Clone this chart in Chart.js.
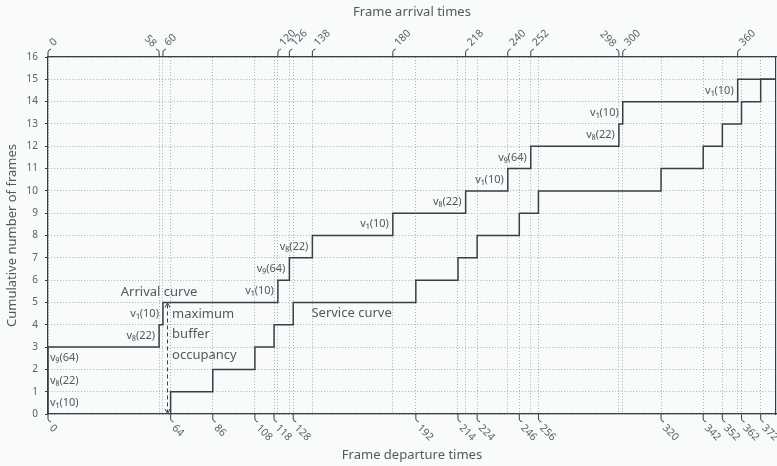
<!DOCTYPE html>
<html>
<head>
<meta charset="utf-8">
<script src="https://cdn.jsdelivr.net/npm/chart.js@4"></script>
<style>
html,body{margin:0;padding:0;background:#f9fafa;}
#wrap{width:777px;height:466px;}
</style>
</head>
<body>
<div id="wrap"><canvas id="myChart" width="777" height="466"></canvas></div>
<script>
// frames in order of arrival
const frameNames     = ['v₁(10)','v₈(22)','v₉(64)','v₈(22)','v₁(10)','v₁(10)','v₉(64)','v₈(22)','v₁(10)','v₈(22)','v₁(10)','v₉(64)','v₈(22)','v₁(10)','v₁(10)']
const arrivalTimes   = [0,0,0,58,60,120,126,138,180,218,240,252,298,300,360]
const departureTimes = [64,86,108,118,128,192,214,224,246,256,320,342,352,362,372]
const arrivalTicks   = [0,58,60,120,126,138,180,218,240,252,298,300,360]
const departureTicks = [0,64,86,108,118,128,192,214,224,246,256,320,342,352,362,372]
const flippedTicks   = [58,298]
const bufferText     = ['maximum','buffer','occupancy']
const xMax = 380
const yMax = 16

const ink     = '#33424a'
const textInk = '#4f5b61'
const tickInk = '#56636a'
const gridInk = '#a9b0b4'
const fontFam = '"Noto Sans", sans-serif'

let arrivalPts = [{x:0,y:0}]
arrivalTimes.forEach((t,i) => arrivalPts.push({x:t, y:i+1}))
arrivalPts.push({x:xMax, y:arrivalTimes.length})

let servicePts = [{x:0,y:0}]
departureTimes.forEach((t,i) => servicePts.push({x:t, y:i+1}))
servicePts.push({x:xMax, y:departureTimes.length})

const decor = {
    id: 'decor',
    afterDraw(chart) {
        const {ctx, chartArea: a, scales} = chart
        const xs = scales.x, xt = scales.x2, ys = scales.y
        ctx.save()
        ctx.strokeStyle = ink
        ctx.lineWidth = 1
        ctx.fillStyle = tickInk
        ctx.font = '10.5px ' + fontFam
        ctx.textBaseline = 'middle'

        // top axis hooks + labels
        arrivalTicks.forEach(v => {
            const px = xt.getPixelForValue(v)
            const d = flippedTicks.includes(v) ? -1 : 1
            ctx.beginPath()
            ctx.moveTo(px, a.top)
            ctx.lineTo(px, a.top - 5)
            ctx.quadraticCurveTo(px, a.top - 7, px + 3*d, a.top - 8)
            ctx.stroke()
            ctx.save()
            if (d > 0) {
                ctx.translate(px + 3.5, a.top - 12.5)
                ctx.rotate(-Math.PI/4)
                ctx.textAlign = 'left'
            } else {
                ctx.translate(px - 4.5, a.top - 11.5)
                ctx.rotate(Math.PI/4)
                ctx.textAlign = 'right'
            }
            ctx.fillText(String(v), 0, 0)
            ctx.restore()
        })

        // bottom axis hooks + labels
        departureTicks.forEach(v => {
            const px = xs.getPixelForValue(v)
            ctx.beginPath()
            ctx.moveTo(px, a.bottom)
            ctx.lineTo(px, a.bottom + 5)
            ctx.quadraticCurveTo(px, a.bottom + 7, px + 3, a.bottom + 8)
            ctx.stroke()
            ctx.save()
            ctx.translate(px + 3, a.bottom + 12.5)
            ctx.rotate(Math.PI/4)
            ctx.textAlign = 'left'
            ctx.fillText(String(v), 0, 0)
            ctx.restore()
        })

        // frame labels along the arrival curve
        ctx.font = '11px ' + fontFam
        ctx.fillStyle = textInk
        frameNames.forEach((name,k) => {
            const t = arrivalTimes[k]
            const py = ys.getPixelForValue(k + 0.5)
            if (t === 0) {
                ctx.textAlign = 'left'
                ctx.fillText(name, a.left + 2, py)
            } else {
                ctx.textAlign = 'right'
                ctx.fillText(name, xt.getPixelForValue(t) - 4, py)
            }
        })

        // annotations
        ctx.font = '13px ' + fontFam
        ctx.textAlign = 'center'
        ctx.fillText('Arrival curve', xs.getPixelForValue(58), ys.getPixelForValue(5.45))
        ctx.textAlign = 'left'
        ctx.fillText('Service curve', xs.getPixelForValue(137.5), ys.getPixelForValue(4.5))
        const by = [4.45, 3.55, 2.62]
        bufferText.forEach((s,i) => ctx.fillText(s, xs.getPixelForValue(64) + 1.5, ys.getPixelForValue(by[i])))

        // dashed double arrow
        const ax = Math.round(xs.getPixelForValue(62)) + 0.5
        const y0 = ys.getPixelForValue(0), y5 = ys.getPixelForValue(5)
        ctx.strokeStyle = ink
        ctx.setLineDash([4,3])
        ctx.beginPath()
        ctx.moveTo(ax, y5 + 2)
        ctx.lineTo(ax, y0 - 2)
        ctx.stroke()
        ctx.setLineDash([])
        ctx.beginPath()
        ctx.moveTo(ax - 2.5, y5 + 5); ctx.lineTo(ax, y5 + 0.5); ctx.lineTo(ax + 2.5, y5 + 5)
        ctx.moveTo(ax - 2.5, y0 - 5); ctx.lineTo(ax, y0 - 0.5); ctx.lineTo(ax + 2.5, y0 - 5)
        ctx.stroke()
        ctx.restore()
    }
}

const dotted = {color: gridInk, lineWidth: 1, drawTicks: false}
const titleFont = {size: 13, family: fontFam}

const config = {
    type: 'line',
    data: {
        datasets: [
            {label: 'Arrival curve', data: arrivalPts, stepped: true, borderColor: ink, borderWidth: 1.5, pointRadius: 0, fill: false, xAxisID: 'x', yAxisID: 'y'},
            {label: 'Service curve', data: servicePts, stepped: true, borderColor: ink, borderWidth: 1.5, pointRadius: 0, fill: false, xAxisID: 'x', yAxisID: 'y'}
        ]
    },
    options: {
        responsive: false,
        animation: false,
        layout: {padding: 0},
        plugins: {legend: {display: false}, tooltip: {enabled: false}},
        scales: {
            x: {
                type: 'linear', position: 'bottom', min: 0, max: xMax,
                afterBuildTicks: s => { s.ticks = departureTicks.map(v => ({value: v})) },
                afterFit: s => { s.height = 52 },
                ticks: {display: false},
                grid: dotted,
                border: {display: true, color: ink, width: 1.2, dash: [1,2]},
                title: {display: true, text: 'Frame departure times', color: textInk, font: titleFont, padding: {top: 0, bottom: 3}}
            },
            x2: {
                type: 'linear', position: 'top', min: 0, max: xMax,
                afterBuildTicks: s => { s.ticks = arrivalTicks.map(v => ({value: v})) },
                afterFit: s => { s.height = 57 },
                ticks: {display: false},
                grid: dotted,
                border: {display: true, color: ink, width: 1.2, dash: [1,2]},
                title: {display: true, text: 'Frame arrival times', color: textInk, font: titleFont, padding: {top: 4, bottom: 0}}
            },
            y: {
                type: 'linear', position: 'left', min: 0, max: yMax,
                afterFit: s => { s.width = 48 },
                ticks: {stepSize: 1, color: tickInk, font: {size: 10, family: fontFam}, padding: 7},
                grid: {color: gridInk, lineWidth: 1, drawTicks: true, tickLength: 3, tickColor: ink, tickBorderDash: []},
                border: {display: true, color: ink, width: 1.2, dash: [1,2]},
                title: {display: true, text: 'Cumulative number of frames', color: textInk, font: titleFont, padding: {top: 4, bottom: 0}}
            },
            y2: {
                type: 'linear', position: 'right', min: 0, max: yMax,
                afterFit: s => { s.width = 1 },
                ticks: {display: false},
                grid: {display: false},
                border: {display: true, color: ink, width: 1.2}
            }
        }
    },
    plugins: [decor]
}

new Chart(document.getElementById('myChart'), config)
</script>
</body>
</html>
